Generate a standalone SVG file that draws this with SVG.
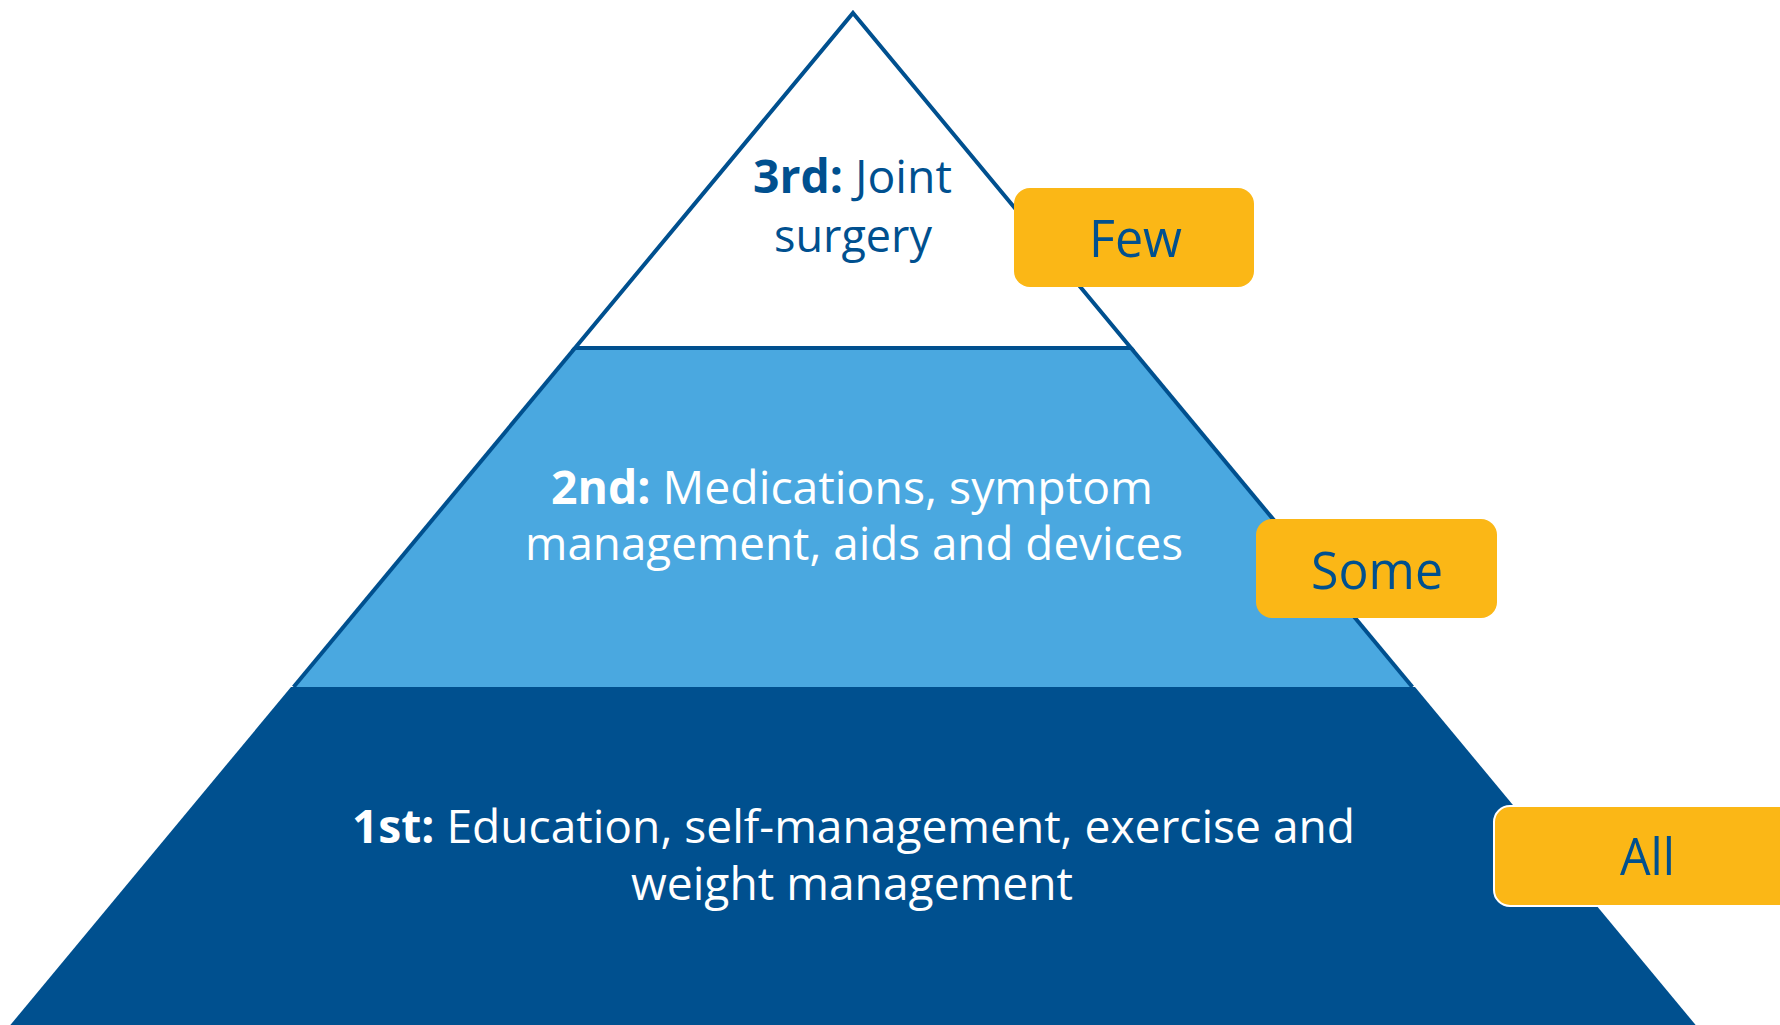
<svg xmlns="http://www.w3.org/2000/svg" width="1780" height="1025" viewBox="0 0 1780 1025">
  <style>
    .tier-text { font-family: "Open Sans", "Noto Sans", "Liberation Sans", sans-serif; font-size: 46px; }
    .label-text { font-family: "Open Sans", "Noto Sans", "Liberation Sans", sans-serif; font-size: 51px; fill: #00508F; }
    .b { font-weight: 700; }
    .outline { stroke: #00508F; stroke-width: 4; fill: none; }
    .box { fill: #FBB716; }
  </style>
  <rect width="1780" height="1025" fill="#FFFFFF"/>

  <g id="tier-1">
    <polygon points="291,687 1415,687 1699.8,1030 6.2,1030" fill="#00508F"/>
    <text class="tier-text" fill="#FFFFFF" x="352" y="843" textLength="1003" lengthAdjust="spacingAndGlyphs"><tspan class="b">1st:</tspan> Education, self-management, exercise and</text>
    <text class="tier-text" fill="#FFFFFF" x="631" y="900" textLength="442" lengthAdjust="spacingAndGlyphs">weight management</text>
  </g>

  <g id="tier-2">
    <polygon points="575,348 1131,348 1412.4,687 293.6,687" fill="#4AA8E0"/>
    <line class="outline" x1="575" y1="348" x2="293.6" y2="687"/>
    <line class="outline" x1="1131" y1="348" x2="1412.4" y2="687"/>
    <text class="tier-text" fill="#FFFFFF" x="551" y="504" textLength="602" lengthAdjust="spacingAndGlyphs"><tspan class="b">2nd:</tspan> Medications, symptom</text>
    <text class="tier-text" fill="#FFFFFF" x="525" y="560" textLength="658" lengthAdjust="spacingAndGlyphs">management, aids and devices</text>
  </g>

  <g id="tier-3">
    <polygon points="853,13 1131,348 575,348" fill="#FFFFFF" stroke="#00508F" stroke-width="4" stroke-linejoin="miter"/>
    <text class="tier-text" fill="#00508F" x="753" y="193" textLength="199" lengthAdjust="spacingAndGlyphs"><tspan class="b">3rd:</tspan> Joint</text>
    <text class="tier-text" fill="#00508F" x="774" y="252" textLength="158" lengthAdjust="spacingAndGlyphs">surgery</text>
  </g>

  <g id="label-few">
    <rect class="box" x="1014" y="188" width="240" height="99" rx="16" ry="16"/>
    <text class="label-text" x="1089" y="257" textLength="93" lengthAdjust="spacingAndGlyphs">Few</text>
  </g>

  <g id="label-some">
    <rect class="box" x="1256" y="519" width="241" height="99" rx="16" ry="16"/>
    <text class="label-text" x="1311" y="589" textLength="132" lengthAdjust="spacingAndGlyphs">Some</text>
  </g>

  <g id="label-all">
    <rect class="box" x="1494" y="806" width="320" height="100" rx="16" ry="16" stroke="#FFFFFF" stroke-width="2"/>
    <text class="label-text" x="1620" y="875" textLength="55" lengthAdjust="spacingAndGlyphs">All</text>
  </g>
</svg>
